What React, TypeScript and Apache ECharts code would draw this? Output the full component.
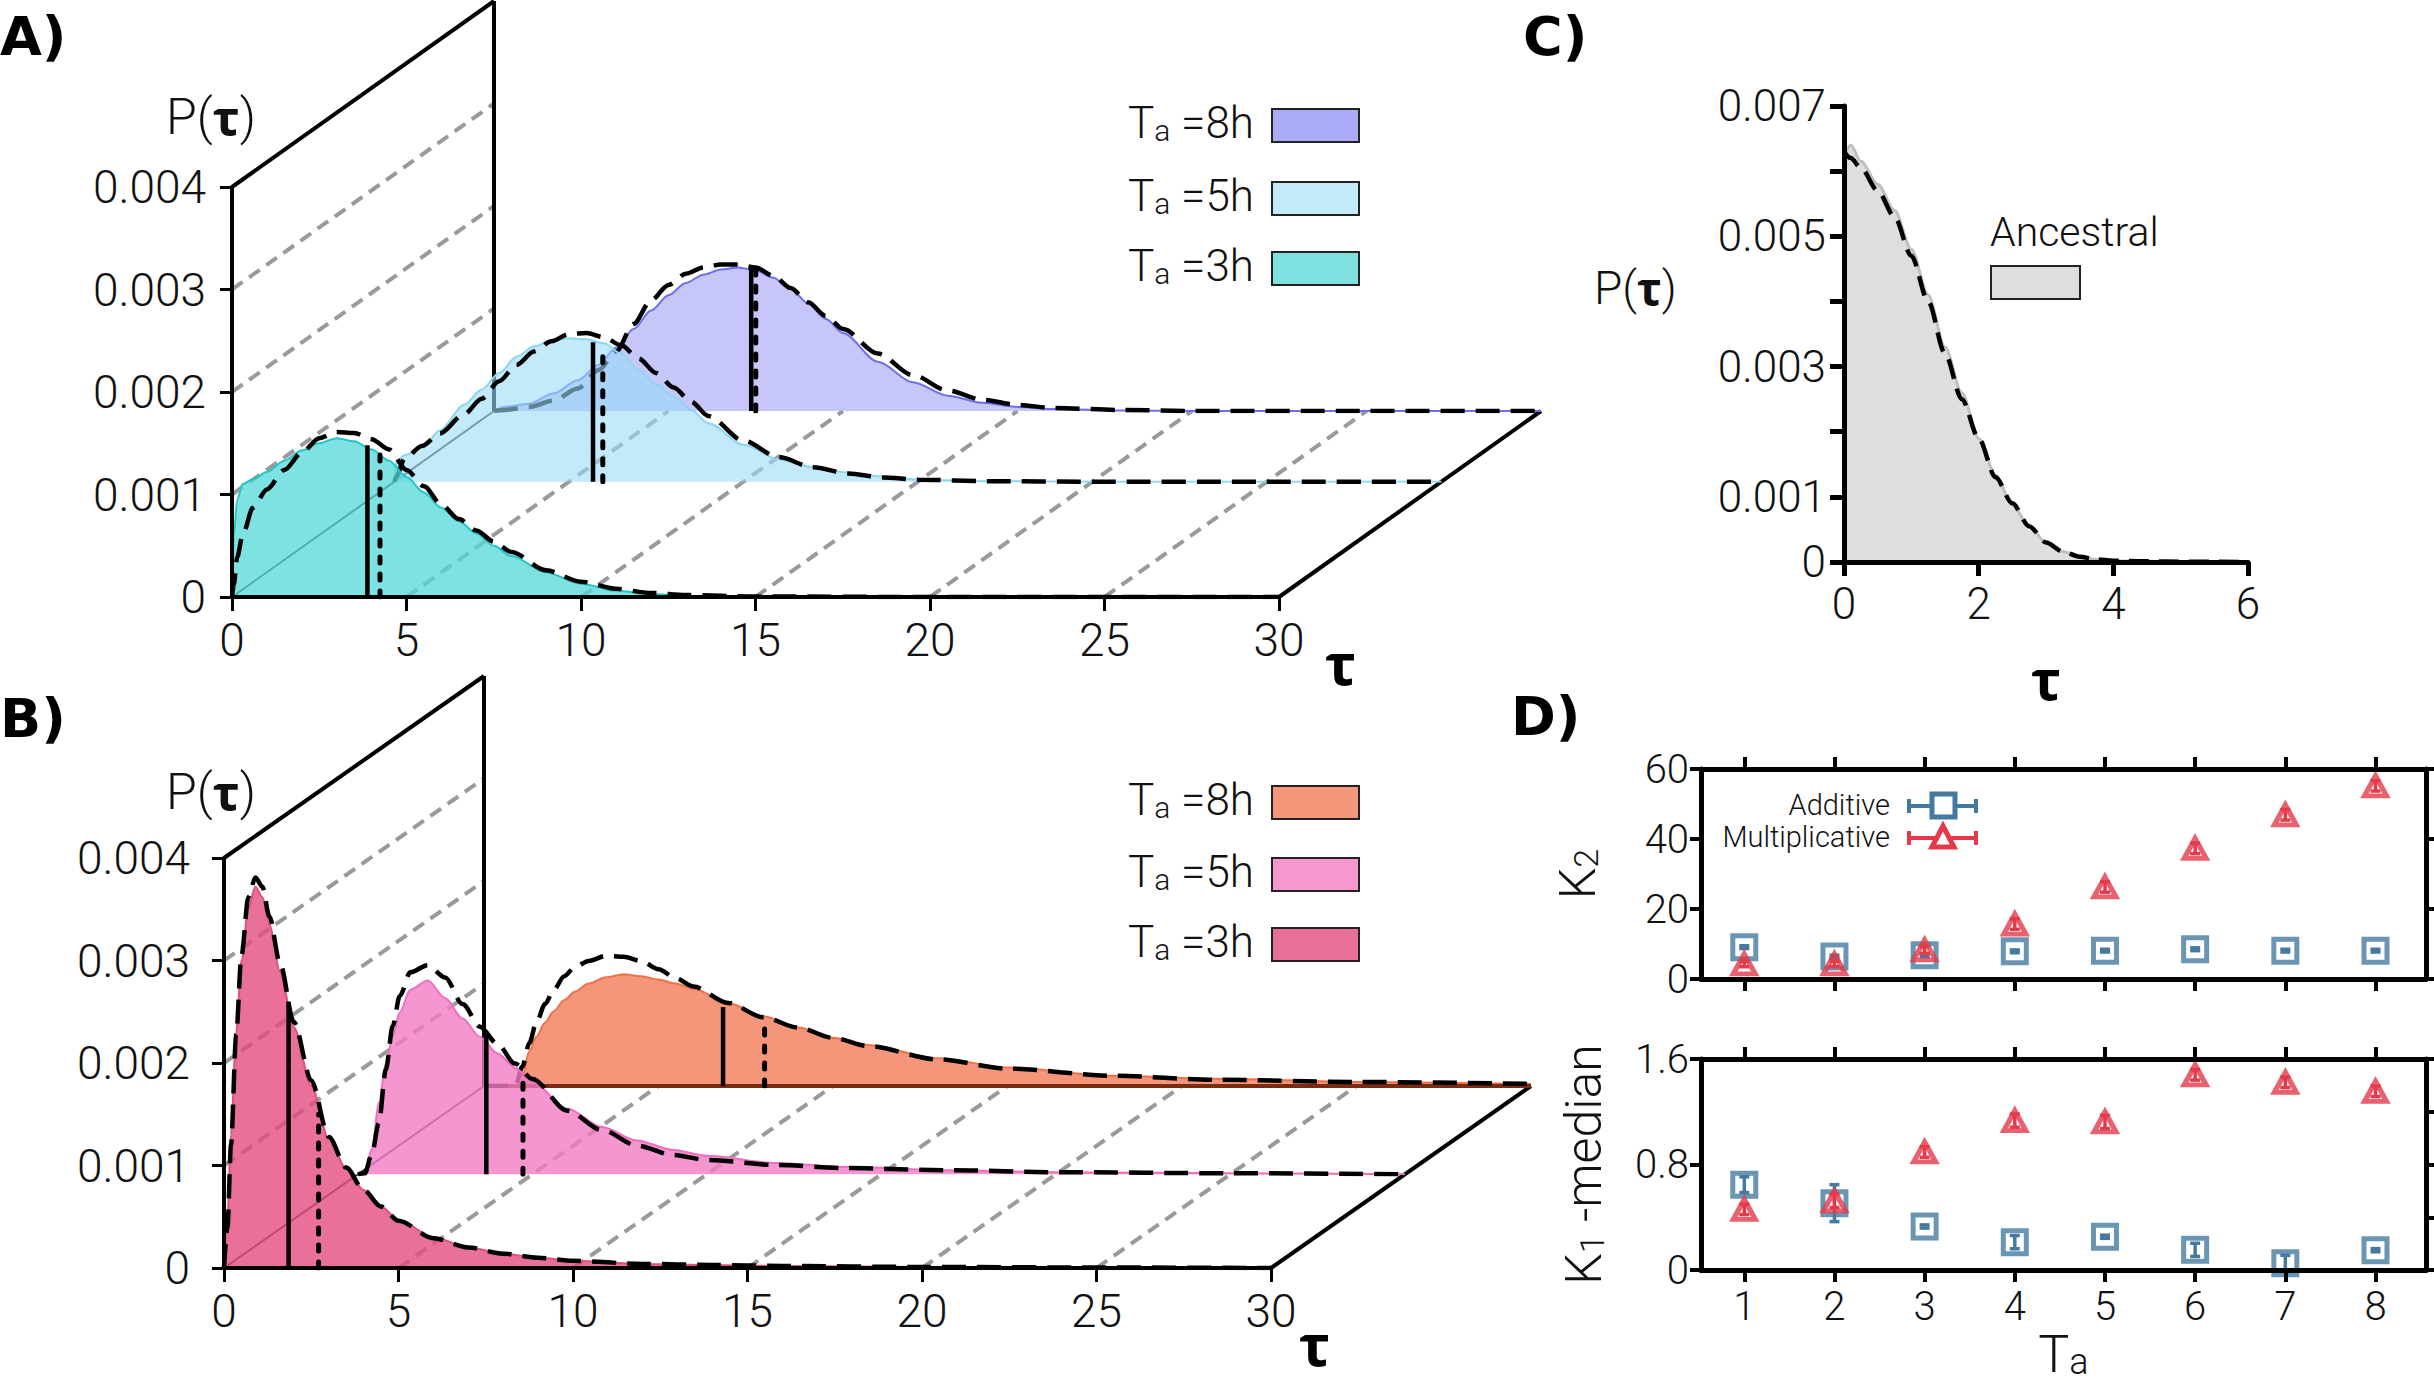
import React, { useEffect, useRef } from "react";
import * as echarts from "echarts";

// ---------------- shared tick values ----------------
const TAU_TICKS = [0, 5, 10, 15, 20, 25, 30];
const P_TICKS = [0, 0.001, 0.002, 0.003, 0.004];

// ---------------- Panel A (Ta = 3h, 5h, 8h) ----------------
const tauA3 = [0, 0.05, 0.15, 0.3, 0.6, 1.0, 1.5, 2.0, 2.5, 3.0, 3.5, 4.0, 4.5, 5.0, 5.5, 6.0, 6.5, 7.0, 7.5, 8.0, 9.0, 10, 11, 12, 13, 15, 20, 25, 30];
const histA3 = [0, 0.0006, 0.00095, 0.0011, 0.00115, 0.00122, 0.00133, 0.00143, 0.0015, 0.00155, 0.00152, 0.00144, 0.00133, 0.00117, 0.00102, 0.00087, 0.00074, 0.00062, 0.0005, 0.0004, 0.00024, 0.00013, 0.00006, 0.00003, 0.00001, 0, 0, 0, 0];
const theoA3 = [0, 0.00012, 0.00039, 0.0006, 0.00087, 0.00105, 0.00124, 0.00141, 0.00155, 0.00161, 0.0016, 0.00154, 0.00144, 0.00124, 0.00108, 0.0009, 0.00076, 0.00065, 0.00054, 0.00044, 0.00026, 0.00015, 0.00008, 0.00004, 0.00002, 0.000005, 0, 0, 0];

const tauA5 = [0, 0.05, 0.3, 0.8, 1.3, 2.0, 2.5, 3.0, 3.5, 4.0, 4.5, 5.0, 5.5, 6.0, 6.5, 7.0, 7.5, 8.0, 8.5, 9.0, 10, 11, 12, 13, 14, 15, 17, 20, 25, 30];
const histA5 = [0, 0.0002, 0.00026, 0.00033, 0.0005, 0.00075, 0.0009, 0.00106, 0.00122, 0.00132, 0.00138, 0.0014, 0.00139, 0.00135, 0.00125, 0.00109, 0.00095, 0.00083, 0.0007, 0.00057, 0.00036, 0.00022, 0.00014, 0.00009, 0.00005, 0.00002, 0.000005, 0, 0, 0];
const theoA5 = [0, 0.00005, 0.00023, 0.00035, 0.00047, 0.00066, 0.00081, 0.00098, 0.00114, 0.00127, 0.00137, 0.00144, 0.00145, 0.00141, 0.00133, 0.0012, 0.00106, 0.00092, 0.00078, 0.00064, 0.0004, 0.00024, 0.00014, 0.00008, 0.00004, 0.00002, 0.000005, 0, 0, 0];

const tauA8 = [0, 0.3, 1.0, 1.7, 2.4, 3.0, 3.5, 4.0, 4.5, 5.0, 5.5, 6.0, 6.5, 7.0, 7.5, 8.0, 8.5, 9.0, 9.5, 10, 11, 12, 13, 14, 15, 16, 18, 20, 25, 30];
const histA8 = [0, 0.00004, 0.00007, 0.00017, 0.0003, 0.00045, 0.00062, 0.0008, 0.00098, 0.00113, 0.00125, 0.00133, 0.00138, 0.0014, 0.00137, 0.0013, 0.00119, 0.00105, 0.0009, 0.00076, 0.00048, 0.00028, 0.00015, 0.00008, 0.00004, 0.00002, 0.000005, 0, 0, 0];
const theoA8 = [0, 0.00001, 0.00004, 0.0001, 0.00022, 0.0004, 0.00058, 0.00085, 0.00108, 0.00123, 0.00134, 0.0014, 0.00143, 0.00143, 0.0014, 0.00132, 0.0012, 0.00106, 0.00093, 0.0008, 0.00056, 0.00035, 0.0002, 0.00011, 0.00006, 0.00003, 0.00001, 0, 0, 0];

// medians: [tau, height] for histogram (solid) and theory (dotted); order 3h, 5h, 8h
const medHistA = [[3.88, 0.00148], [5.69, 0.00136], [7.37, 0.0014]];
const medTheoA = [[4.24, 0.00141], [5.97, 0.00131], [7.5, 0.00139]];

// ---------------- Panel B (Ta = 3h, 5h, 8h) ----------------
const tauB3 = [0, 0.1, 0.2, 0.35, 0.5, 0.7, 0.9, 1.1, 1.3, 1.6, 2.0, 2.5, 3.0, 3.5, 4.0, 4.5, 5.0, 6.0, 7.0, 8.0, 9.0, 10, 12, 14, 16, 20, 25, 30];
const histB3 = [0, 0.0005, 0.0013, 0.0023, 0.003, 0.00352, 0.00372, 0.00362, 0.00335, 0.0029, 0.00235, 0.00178, 0.00126, 0.00097, 0.00076, 0.0006, 0.00047, 0.0003, 0.0002, 0.00014, 0.0001, 0.00007, 0.00004, 0.00003, 0.00002, 0.00001, 0.000005, 0];
const theoB3 = [0, 0.0004, 0.0012, 0.00228, 0.00305, 0.00362, 0.00381, 0.00372, 0.00343, 0.00298, 0.0024, 0.00183, 0.00128, 0.00098, 0.00076, 0.0006, 0.00046, 0.00029, 0.0002, 0.00014, 0.0001, 0.00007, 0.00004, 0.00003, 0.00002, 0.00001, 0.000005, 0];

const tauB5 = [0, 0.2, 0.4, 0.6, 0.8, 1.0, 1.2, 1.5, 2.0, 2.5, 3.0, 3.5, 4.0, 4.5, 5.0, 6.0, 7.0, 8.0, 9.0, 10, 12, 14, 17, 20, 25, 30];
const histB5 = [0, 0.00002, 0.00025, 0.0007, 0.00108, 0.00135, 0.00158, 0.0018, 0.00189, 0.00172, 0.00152, 0.00134, 0.00118, 0.00104, 0.0009, 0.00064, 0.00046, 0.00033, 0.00024, 0.00018, 0.00011, 0.00007, 0.00004, 0.00002, 0.00001, 0];
const theoB5 = [0, 0.00001, 0.0002, 0.0005, 0.00102, 0.00145, 0.00174, 0.00197, 0.00204, 0.00192, 0.00166, 0.00144, 0.00127, 0.00108, 0.00093, 0.00062, 0.00043, 0.00028, 0.00019, 0.00014, 0.00009, 0.00006, 0.00004, 0.00002, 0.00001, 0];

const tauB8 = [0, 0.9, 1.1, 1.3, 1.5, 1.75, 2.0, 2.3, 2.6, 3.0, 3.5, 4.0, 4.5, 5.0, 5.5, 6.0, 7.0, 8.0, 9.0, 10, 11, 13, 15, 18, 21, 25, 30];
const histB8 = [0, 0, 0.0001, 0.00034, 0.00048, 0.00062, 0.00073, 0.00084, 0.00092, 0.001, 0.00106, 0.00109, 0.00107, 0.00104, 0.001, 0.00095, 0.00081, 0.00068, 0.00057, 0.00047, 0.0004, 0.00027, 0.00018, 0.0001, 0.00007, 0.00004, 0.00002];
const theoB8 = [0, 0, 0.00019, 0.00042, 0.00062, 0.0008, 0.00094, 0.00107, 0.00116, 0.00122, 0.00127, 0.00126, 0.00122, 0.00114, 0.00105, 0.00097, 0.00081, 0.00067, 0.00057, 0.00047, 0.00039, 0.00026, 0.00017, 0.0001, 0.00006, 0.00004, 0.00002];

const medHistB = [[1.85, 0.0026], [3.68, 0.00135], [6.85, 0.00077]];
const medTheoB = [[2.71, 0.0015], [4.73, 0.00098], [8.04, 0.00063]];

// ---------------- Panel C (ancestral) ----------------
const tauC = [0, 0.1, 0.25, 0.5, 0.75, 1.0, 1.25, 1.5, 1.75, 2.0, 2.25, 2.5, 2.75, 3.0, 3.25, 3.5, 3.75, 4.0, 4.5, 5, 6];
const histC = [0.0062, 0.0064, 0.00615, 0.0058, 0.0054, 0.0048, 0.0041, 0.0033, 0.0026, 0.0019, 0.00133, 0.00088, 0.00055, 0.0003, 0.00016, 0.00008, 0.00004, 0.00002, 0.00001, 0.000005, 0.000002];
const theoC = [0.0063, 0.0062, 0.00605, 0.0057, 0.0053, 0.0047, 0.004, 0.0032, 0.0025, 0.0019, 0.0013, 0.0009, 0.00055, 0.0003, 0.00016, 0.00008, 0.00004, 0.00002, 0.00001, 0.000005, 0];
const C_TICKS_LABELED = [0, 1, 3, 5, 7]; // in units of 0.001

// ---------------- Panel D ----------------
const taValues = [1, 2, 3, 4, 5, 6, 7, 8];
const k2Add = [9.1, 6.4, 6.8, 7.9, 8.1, 8.5, 8.1, 8.1];
const k2AddErr = [0.4, 0.4, 0.4, 0.4, 0.4, 0.4, 0.4, 0.4];
const k2Mult = [4.3, 4.3, 8.3, 15.7, 26.3, 37.3, 46.9, 55.2];
const k2MultErr = [0.8, 0.8, 1.0, 1.5, 1.5, 1.5, 1.5, 1.5];
const k1Add = [0.647, 0.507, 0.33, 0.211, 0.252, 0.153, 0.051, 0.15];
const k1AddErr = [0.06, 0.14, 0.012, 0.05, 0.012, 0.05, 0.06, 0.012];
const k1Mult = [0.46, 0.524, 0.895, 1.133, 1.123, 1.48, 1.423, 1.355];
const k1MultErr = [0.04, 0.05, 0.04, 0.05, 0.05, 0.04, 0.04, 0.04];

// ---------------- styling ----------------
const LF = "Roboto";
const BF = "Open Sans";
const PANEL_FONT = "DejaVu Sans";
const BLUE = "#457AA0";
const RED = "#E43A4A";

const PANEL_A = { left: 232, bottom: 597, width: 1047, height: 410, dx: 262, dy: -186, depths: [0, 0.62, 1], yMargin: 26 };
const PANEL_B = { left: 224, bottom: 1268, width: 1047, height: 410, dx: 260, dy: -182, depths: [0, 0.515, 1], yMargin: 34 };

const LAYERS_A = [
  { name: "3h", tau: tauA3, hist: histA3, theo: theoA3, med: 0, fill: "rgba(84,216,216,0.75)", line: "#22C6C8", legend: "#7FE0E0" },
  { name: "5h", tau: tauA5, hist: histA5, theo: theoA5, med: 1, fill: "rgba(153,220,247,0.6)", line: "#8CD6F0", legend: "#C3EAF8" },
  { name: "8h", tau: tauA8, hist: histA8, theo: theoA8, med: 2, fill: "rgba(179,179,246,0.75)", line: "#6E6EF0", legend: "#AAAAF5" },
];
const LAYERS_B = [
  { name: "3h", tau: tauB3, hist: histB3, theo: theoB3, med: 0, fill: "rgba(226,76,129,0.8)", line: "#E0507F", legend: "#E87098" },
  { name: "5h", tau: tauB5, hist: histB5, theo: theoB5, med: 1, fill: "rgba(242,124,196,0.8)", line: "#EE6EC0", legend: "#F598D0" },
  { name: "8h", tau: tauB8, hist: histB8, theo: theoB8, med: 2, fill: "rgba(242,124,89,0.8)", line: "#F07048", legend: "#F5977A", base: "#7A2C12" },
];

const pairs = (xs: number[], ys: number[]) => xs.map((x, i) => [x, ys[i]]);

const DECO_STYLES = [
  { stroke: "#9a9a9a", lineWidth: 4, lineDash: [13, 8], fill: null },
  { stroke: "#000", lineWidth: 4, fill: null },
  { stroke: "#3a3a3a", lineWidth: 2, fill: null },
];

const THEO_DASH = { color: "#000", width: 4.5, type: [24, 11] };

function fmtP(v: number) {
  return v === 0 ? "0" : v.toFixed(3);
}

function buildOption() {
  const grid: any[] = [];
  const xAxis: any[] = [];
  const yAxis: any[] = [];
  const series: any[] = [];
  const graphic: any[] = [];

  const tickLabel = (size: number, margin: number, extra: any = {}) => ({
    show: true, fontSize: size, fontFamily: LF, fontWeight: 300, color: "#111", margin, ...extra,
  });
  const axLine = (w: number) => ({ show: true, onZero: false, lineStyle: { color: "#000", width: w } });
  const axTick = (len: number, w: number, extra: any = {}) => ({ show: true, length: len, lineStyle: { color: "#000", width: w }, ...extra });

  const TAU_MAX = TAU_TICKS[TAU_TICKS.length - 1];
  const P_MAX = P_TICKS[P_TICKS.length - 1];

  const add3D = (panel: any, layers: any[], medHist: number[][], medTheo: number[][]) => {
    const xs: number[] = [];
    const ys: number[] = [];
    panel.depths.forEach((f: number, i: number) => {
      const gi = grid.length;
      grid.push({
        left: panel.left + f * panel.dx,
        top: panel.bottom + f * panel.dy - panel.height,
        width: panel.width,
        height: panel.height,
      });
      const front = i === 0;
      xs.push(xAxis.length);
      xAxis.push({
        gridIndex: gi, type: "value", min: 0, max: TAU_MAX, interval: TAU_TICKS[1] - TAU_TICKS[0], show: front, z: 10,
        axisLine: axLine(4), axisTick: axTick(14, 3), axisLabel: tickLabel(46, 20), splitLine: { show: false },
      });
      ys.push(yAxis.length);
      yAxis.push({
        gridIndex: gi, type: "value", min: 0, max: P_MAX, interval: P_TICKS[1] - P_TICKS[0], show: front, z: 10,
        axisLine: axLine(4), axisTick: axTick(12, 3), axisLabel: tickLabel(46, panel.yMargin, { formatter: fmtP }),
        splitLine: { show: false },
      });
    });

    // decoration: floor lines, wall lines, edges (data units + depth vector)
    const deco: number[][] = [
      ...TAU_TICKS.filter((t) => t > 0 && t < TAU_MAX).map((t) => [t, 0, t, 0, 0, 1, 0]),
      ...P_TICKS.filter((p) => p > 0 && p < P_MAX).map((p) => [0, p, 0, p, 0, 1, 0]),
      [0, P_MAX, 0, P_MAX, 0, 1, 1],
      [0, 0, 0, P_MAX, 1, 1, 1],
      [TAU_MAX, 0, TAU_MAX, 0, 0, 1, 1],
      [0, 0, 0, 0, 0, 1, 2],
    ];
    series.push({
      type: "custom", xAxisIndex: xs[0], yAxisIndex: ys[0], z: 1, silent: true, clip: false,
      data: deco, encode: { x: 0, y: 1 },
      renderItem: (_p: any, api: any) => {
        const a = api.coord([api.value(0), api.value(1)]);
        const b = api.coord([api.value(2), api.value(3)]);
        const da = api.value(4), db = api.value(5);
        return {
          type: "line",
          shape: { x1: a[0] + da * panel.dx, y1: a[1] + da * panel.dy, x2: b[0] + db * panel.dx, y2: b[1] + db * panel.dy },
          style: DECO_STYLES[api.value(6)],
        };
      },
    });

    for (let i = layers.length - 1; i >= 0; i--) {
      const L = layers[i];
      const z = 2 + (layers.length - 1 - i);
      const xi = xs[i], yi = ys[i];
      series.push({
        type: "line", xAxisIndex: xi, yAxisIndex: yi, z, silent: true, symbol: "none",
        smooth: 0.3, smoothMonotone: "x",
        data: pairs(L.tau, L.hist),
        lineStyle: { color: L.line, width: 2 },
        areaStyle: { color: L.fill, opacity: 1 },
      });
      if (L.base) {
        series.push({
          type: "line", xAxisIndex: xi, yAxisIndex: yi, z, silent: true, symbol: "none",
          data: [[L.tau[0], 0], [L.tau[L.tau.length - 1], 0]],
          lineStyle: { color: L.base, width: 4 },
        });
      }
      series.push({
        type: "line", xAxisIndex: xi, yAxisIndex: yi, z, silent: true, symbol: "none",
        smooth: 0.3, smoothMonotone: "x",
        data: pairs(L.tau, L.theo),
        lineStyle: THEO_DASH,
      });
      const mh = medHist[L.med], mt = medTheo[L.med];
      series.push({
        type: "line", xAxisIndex: xi, yAxisIndex: yi, z, silent: true, symbol: "none",
        data: [[mh[0], 0], [mh[0], mh[1]]],
        lineStyle: { color: "#000", width: 4.5 },
      });
      series.push({
        type: "line", xAxisIndex: xi, yAxisIndex: yi, z, silent: true, symbol: "none",
        data: [[mt[0], 0], [mt[0], mt[1]]],
        lineStyle: { color: "#000", width: 5, type: [6, 11], cap: "round" },
      });
    }
  };

  add3D(PANEL_A, LAYERS_A, medHistA, medTheoA);
  add3D(PANEL_B, LAYERS_B, medHistB, medTheoB);

  // ---------------- Panel C ----------------
  {
    const gi = grid.length;
    grid.push({ left: 1844, top: 106, width: 404, height: 456 });
    const xi = xAxis.length;
    xAxis.push({
      gridIndex: gi, type: "value", min: 0, max: 6, interval: 2, z: 10,
      axisLine: axLine(5), axisTick: axTick(14, 5), axisLabel: tickLabel(44, 20), splitLine: { show: false },
      name: "τ", nameLocation: "middle", nameGap: 88,
      nameTextStyle: { fontSize: 56, fontFamily: BF, fontWeight: "bold", color: "#000" },
    });
    const yi = yAxis.length;
    yAxis.push({
      gridIndex: gi, type: "value", min: 0, max: 0.007, interval: 0.001, z: 10,
      axisLine: axLine(5), axisTick: axTick(14, 5),
      axisLabel: tickLabel(44, 18, {
        formatter: (v: number) => {
          const k = Math.round(v * 1000);
          return C_TICKS_LABELED.includes(k) ? fmtP(k / 1000) : "";
        },
      }),
      splitLine: { show: false },
    });
    series.push({
      type: "line", xAxisIndex: xi, yAxisIndex: yi, z: 2, silent: true, symbol: "none", smooth: 0.3, smoothMonotone: "x",
      data: pairs(tauC, histC), lineStyle: { color: "#c0c0c0", width: 3 }, areaStyle: { color: "#dedede", opacity: 1 },
    });
    series.push({
      type: "line", xAxisIndex: xi, yAxisIndex: yi, z: 3, silent: true, symbol: "none", smooth: 0.3, smoothMonotone: "x",
      data: pairs(tauC, theoC), lineStyle: { color: "#000", width: 4.5, type: [20, 10] },
    });
  }

  // ---------------- Panel D ----------------
  const dPanel = (top: number, height: number, yMax: number, yInt: number, yRightInt: number, yName: string, nameGap: number, showX: boolean,
    add: number[], addErr: number[], mult: number[], multErr: number[]) => {
    const gi = grid.length;
    grid.push({ left: 1701, top, width: 725, height });
    const xb = xAxis.length;
    xAxis.push({
      gridIndex: gi, type: "value", position: "bottom", min: 0.52, max: 8.56, z: 10,
      axisLine: axLine(5), axisTick: axTick(12, 4, { customValues: taValues }),
      axisLabel: showX ? tickLabel(40, 16, { customValues: taValues }) : { show: false },
      splitLine: { show: false },
      ...(showX ? {
        name: "{t|T}{s|a}", nameLocation: "middle", nameGap: 58,
        nameTextStyle: {
          rich: {
            t: { fontSize: 52, fontFamily: LF, fontWeight: 300, color: "#111", lineHeight: 52 },
            s: { fontSize: 36, fontFamily: LF, fontWeight: 300, color: "#111", lineHeight: 10, verticalAlign: "bottom" },
          },
        },
      } : {}),
    });
    xAxis.push({
      gridIndex: gi, type: "value", position: "top", min: 0.52, max: 8.56, z: 10,
      axisLine: axLine(5), axisTick: axTick(12, 4, { customValues: taValues }),
      axisLabel: { show: false }, splitLine: { show: false },
    });
    const yl = yAxis.length;
    yAxis.push({
      gridIndex: gi, type: "value", position: "left", min: 0, max: yMax, interval: yInt, z: 10,
      axisLine: axLine(5), axisTick: axTick(11, 4),
      axisLabel: tickLabel(40, 12, { formatter: (v: number) => (v === 0 ? "0" : String(+v.toFixed(2))) }),
      splitLine: { show: false },
      name: yName, nameLocation: "middle", nameRotate: 90, nameGap,
      nameTextStyle: {
        rich: {
          k: { fontSize: 50, fontFamily: LF, fontWeight: 300, color: "#111", lineHeight: 50 },
          s: { fontSize: 34, fontFamily: LF, fontWeight: 300, color: "#111", lineHeight: 10, verticalAlign: "bottom" },
        },
      },
    });
    yAxis.push({
      gridIndex: gi, type: "value", position: "right", min: 0, max: yMax, interval: yRightInt, z: 10,
      axisLine: axLine(5), axisTick: axTick(10, 4), axisLabel: { show: false }, splitLine: { show: false },
    });
    const errSeries = (vals: number[], errs: number[], color: string) => ({
      type: "custom", xAxisIndex: xb, yAxisIndex: yl, z: 6, silent: true,
      data: taValues.map((t, i) => [t, vals[i] - errs[i], vals[i] + errs[i]]),
      encode: { x: 0, y: [1, 2] },
      renderItem: (_p: any, api: any) => {
        const a = api.coord([api.value(0), api.value(1)]);
        const b = api.coord([api.value(0), api.value(2)]);
        const st = { stroke: color, lineWidth: 3.5, fill: null };
        const cw = 5;
        return {
          type: "group",
          children: [
            { type: "line", shape: { x1: a[0], y1: a[1], x2: b[0], y2: b[1] }, style: st },
            { type: "line", shape: { x1: a[0] - cw, y1: a[1], x2: a[0] + cw, y2: a[1] }, style: st },
            { type: "line", shape: { x1: b[0] - cw, y1: b[1], x2: b[0] + cw, y2: b[1] }, style: st },
          ],
        };
      },
    });
    series.push({
      type: "scatter", name: "Additive", xAxisIndex: xb, yAxisIndex: yl, z: 5, silent: true,
      data: pairs(taValues, add), symbol: "rect", symbolSize: 23,
      itemStyle: { color: "rgba(255,255,255,0)", borderColor: BLUE, borderWidth: 5 },
    });
    series.push(errSeries(add, addErr, BLUE));
    series.push({
      type: "scatter", name: "Multiplicative", xAxisIndex: xb, yAxisIndex: yl, z: 7, silent: true,
      data: pairs(taValues, mult), symbol: "triangle", symbolSize: [22, 20],
      itemStyle: { color: "rgba(255,255,255,0)", borderColor: RED, borderWidth: 5 },
    });
    series.push({ ...errSeries(mult, multErr, RED), z: 8 });
  };

  dPanel(769, 210, 60, 20, 20, "{k|K}{s|2}", 98, false, k2Add, k2AddErr, k2Mult, k2MultErr);
  dPanel(1059, 211, 1.6, 0.8, 0.4, "{k|K}{s|1}{k| -median}", 92, true, k1Add, k1AddErr, k1Mult, k1MultErr);

  // ---------------- graphic texts & legends ----------------
  const label = (t: string, x: number, y: number) => ({
    type: "text", x, y, silent: true,
    style: { text: t, fontSize: 54, fontFamily: PANEL_FONT, fontWeight: "bold", fill: "#000", align: "left", verticalAlign: "middle" },
  });
  graphic.push(label("A)", 0, 36), label("B)", 0, 718), label("C)", 1523, 36), label("D)", 1511, 716));

  const pTau = (x: number, y: number, size: number) => ({
    type: "text", x, y, silent: true,
    style: {
      text: "{n|P(}{b|τ}{n|)}", align: "left", verticalAlign: "middle",
      rich: {
        n: { fontSize: size, fontFamily: LF, fontWeight: 300, fill: "#111" },
        b: { fontSize: size, fontFamily: BF, fontWeight: "bold", fill: "#111" },
      },
    },
  });
  graphic.push(pTau(166, 117, 50), pTau(166, 792, 50), pTau(1594, 288, 46));

  const tauName = (x: number, y: number) => ({
    type: "text", x, y, silent: true,
    style: { text: "τ", fontSize: 58, fontFamily: BF, fontWeight: "bold", fill: "#000", align: "left", verticalAlign: "middle" },
  });
  graphic.push(tauName(1325, 662), tauName(1299, 1343));

  const legend3 = (layers: any[], rowsY: number[]) => {
    layers.forEach((L: any, i: number) => {
      const yc = rowsY[2 - i];
      graphic.push({
        type: "text", x: 1128, y: yc, silent: true,
        style: {
          text: `{t|T}{s|a}{t| =${L.name}}`, align: "left", verticalAlign: "middle",
          rich: {
            t: { fontSize: 44, fontFamily: LF, fontWeight: 300, fill: "#111", lineHeight: 44 },
            s: { fontSize: 30, fontFamily: LF, fontWeight: 300, fill: "#111", lineHeight: 6, verticalAlign: "bottom" },
          },
        },
      });
      graphic.push({
        type: "rect", silent: true,
        shape: { x: 1272, y: yc - 14, width: 87, height: 33 },
        style: { fill: L.legend, stroke: "#222", lineWidth: 2 },
      });
    });
  };
  legend3(LAYERS_A, [123, 196, 266]);
  legend3(LAYERS_B, [800, 872, 942]);

  graphic.push({
    type: "text", x: 1990, y: 232, silent: true,
    style: { text: "Ancestral", fontSize: 41, fontFamily: LF, fontWeight: 300, fill: "#111", align: "left", verticalAlign: "middle" },
  });
  graphic.push({
    type: "rect", silent: true, shape: { x: 1991, y: 266, width: 89, height: 33 },
    style: { fill: "#dedede", stroke: "#222", lineWidth: 2 },
  });

  // D legend
  const dLegendRow = (txt: string, y: number, color: string, tri: boolean) => {
    graphic.push({
      type: "text", x: 1890, y, silent: true,
      style: { text: txt, fontSize: 29, fontFamily: LF, fontWeight: 300, fill: "#111", align: "right", verticalAlign: "middle" },
    });
    const st = { stroke: color, lineWidth: 4, fill: null };
    graphic.push({ type: "line", silent: true, shape: { x1: 1908, y1: y + 1, x2: 1977, y2: y + 1 }, style: st });
    graphic.push({ type: "line", silent: true, shape: { x1: 1909, y1: y - 6, x2: 1909, y2: y + 8 }, style: st });
    graphic.push({ type: "line", silent: true, shape: { x1: 1976, y1: y - 6, x2: 1976, y2: y + 8 }, style: st });
    if (tri) {
      graphic.push({
        type: "polygon", silent: true,
        shape: { points: [[1943, y - 11], [1954, y + 10], [1932, y + 10]] },
        style: { fill: "#fff", stroke: color, lineWidth: 5 },
      });
    } else {
      graphic.push({
        type: "rect", silent: true, shape: { x: 1932, y: y - 11, width: 23, height: 23 },
        style: { fill: "#fff", stroke: color, lineWidth: 5 },
      });
    }
  };
  dLegendRow("Additive", 805, BLUE, false);
  dLegendRow("Multiplicative", 837, RED, true);

  return {
    animation: false,
    backgroundColor: "#fff",
    textStyle: { fontFamily: LF },
    grid, xAxis, yAxis, series, graphic,
  };
}

export default function App() {
  const ref = useRef<HTMLDivElement>(null);
  useEffect(() => {
    const chart = echarts.init(ref.current as HTMLDivElement, null, { renderer: "svg" });
    chart.setOption(buildOption() as any);
    return () => chart.dispose();
  }, []);
  return (
    <div
      ref={ref}
      style={{ position: "absolute", left: 0, top: 0, width: 2434, height: 1384, background: "#fff" }}
    />
  );
}
